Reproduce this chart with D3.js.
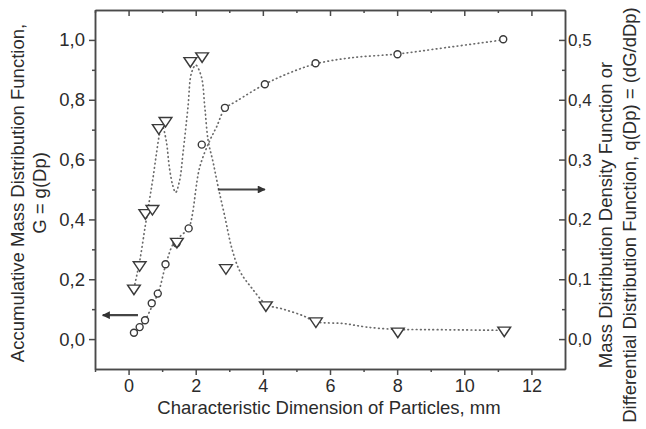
<!DOCTYPE html>
<html>
<head>
<meta charset="utf-8">
<script src="https://cdn.jsdelivr.net/npm/d3@7"></script>
<style>
  body { margin: 0; background: #fff; }
  text { font-family: "Liberation Sans", Arial, sans-serif; fill: #2b2b2b; }
</style>
</head>
<body>
<svg id="chart" width="646" height="429"></svg>
<script>
// measured points, accumulative G (left axis)
var gX = [0.16, 0.33, 0.49, 0.69, 0.87, 1.1, 1.43, 1.79, 2.18, 2.87, 4.06, 5.57, 8.01, 11.16];
var gY = [0.021, 0.04, 0.063, 0.12, 0.152, 0.25, 0.32, 0.37, 0.65, 0.773, 0.852, 0.922, 0.952, 1.002];
// measured points, density q (right axis)
var qX = [0.16, 0.33, 0.5, 0.71, 0.9, 1.1, 1.44, 1.84, 2.19, 2.9, 4.09, 5.58, 8.02, 11.19];
var qY = [0.085, 0.124, 0.211, 0.218, 0.353, 0.365, 0.163, 0.465, 0.473, 0.119, 0.057, 0.030, 0.013, 0.0146];
// dotted fit curves
var gFitX = [0.16, 0.33, 0.5, 0.7, 0.9, 1.1, 1.33, 1.6, 1.79, 2.12, 2.42, 2.62, 2.87, 3.21, 4.06, 4.8, 5.57, 6.6, 8.0, 9.5, 11.16];
var gFitY = [0.02, 0.04, 0.065, 0.11, 0.16, 0.245, 0.318, 0.35, 0.37, 0.575, 0.664, 0.709, 0.77, 0.795, 0.852, 0.89, 0.92, 0.94, 0.953, 0.975, 1.0];
var qFitX = [0.16, 0.33, 0.5, 0.63, 0.73, 0.83, 0.93, 1.0, 1.12, 1.22, 1.32, 1.4, 1.52, 1.62, 1.77, 1.87, 2.0, 2.17, 2.27, 2.37, 2.52, 2.67, 2.87, 3.07, 3.31, 3.66, 4.11, 4.61, 5.2, 5.58, 6.4, 7.1, 8.0, 8.6, 11.2];
var qFitY = [0.085, 0.13, 0.19, 0.235, 0.27, 0.31, 0.345, 0.357, 0.332, 0.285, 0.256, 0.245, 0.265, 0.31, 0.388, 0.444, 0.458, 0.438, 0.388, 0.332, 0.295, 0.254, 0.204, 0.153, 0.114, 0.086, 0.058, 0.05, 0.039, 0.029, 0.026, 0.020, 0.016, 0.016, 0.0146];

var xTicks = [0, 2, 4, 6, 8, 10, 12];
var xMinor = [-1, 1, 3, 5, 7, 9, 11];
var gTicks = [0, 0.2, 0.4, 0.6, 0.8, 1.0];
var gMinor = [0.1, 0.3, 0.5, 0.7, 0.9];
var qTicks = [0, 0.1, 0.2, 0.3, 0.4, 0.5];
var qMinor = [0.05, 0.15, 0.25, 0.35, 0.45];

(function () {
  var pL = 95, pR = 565, pT = 10, pB = 369;
  var svg = d3.select("#chart");

  var x = d3.scaleLinear().domain([-1, 13]).range([pL, pR]);
  var yL = d3.scaleLinear().domain([-0.1, 1.1]).range([pB, pT]);
  var yR = d3.scaleLinear().domain([-0.05, 0.55]).range([pB, pT]);

  var comma = function (d) { return d3.format(".1f")(d).replace(".", ","); };
  var axisColor = "#4a4a4a";

  function style(g) {
    g.selectAll("path, line").attr("stroke", axisColor).attr("stroke-width", 1.5);
    g.selectAll("text").attr("fill", "#2b2b2b").style("font-family", "'Liberation Sans', Arial, sans-serif");
  }

  // bottom axis
  svg.append("g").attr("transform", "translate(0," + pB + ")")
    .call(d3.axisBottom(x).tickValues(xTicks).tickSize(6).tickSizeOuter(0).tickPadding(4).tickFormat(d3.format("d")))
    .call(style).selectAll("text").style("font-size", "18px");
  svg.append("g").attr("transform", "translate(0," + pB + ")")
    .call(d3.axisBottom(x).tickValues(xMinor).tickSize(3).tickSizeOuter(0).tickFormat(""))
    .call(style);
  // top axis, ticks inside
  svg.append("g").attr("transform", "translate(0," + pT + ")")
    .call(d3.axisBottom(x).tickValues(xTicks).tickSize(6).tickSizeOuter(0).tickFormat(""))
    .call(style);
  svg.append("g").attr("transform", "translate(0," + pT + ")")
    .call(d3.axisBottom(x).tickValues(xMinor).tickSize(3).tickSizeOuter(0).tickFormat(""))
    .call(style);
  // left axis
  svg.append("g").attr("transform", "translate(" + pL + ",0)")
    .call(d3.axisLeft(yL).tickValues(gTicks).tickSize(6).tickSizeOuter(0).tickPadding(4).tickFormat(comma))
    .call(style).selectAll("text").style("font-size", "18.5px");
  svg.append("g").attr("transform", "translate(" + pL + ",0)")
    .call(d3.axisLeft(yL).tickValues(gMinor).tickSize(3).tickSizeOuter(0).tickFormat(""))
    .call(style);
  // right axis, ticks inside
  svg.append("g").attr("transform", "translate(" + pR + ",0)")
    .call(d3.axisRight(yR).tickValues(qTicks).tickSizeInner(-6).tickSizeOuter(0).tickPadding(3).tickFormat(comma))
    .call(style).selectAll("text").style("font-size", "17px");
  svg.append("g").attr("transform", "translate(" + pR + ",0)")
    .call(d3.axisRight(yR).tickValues(qMinor).tickSizeInner(-3).tickSizeOuter(0).tickFormat(""))
    .call(style);

  // axis titles
  svg.append("text").attr("x", 329).attr("y", 414)
    .attr("text-anchor", "middle").style("font-size", "18.5px")
    .text("Characteristic Dimension of Particles, mm");

  var lt = svg.append("text").attr("transform", "translate(24,193) rotate(-90)")
    .attr("text-anchor", "middle").style("font-size", "18.5px");
  lt.append("tspan").attr("x", 0).attr("dy", 0).text("Accumulative Mass Distribution Function,");
  lt.append("tspan").attr("x", 0).attr("dy", 22).text("G = g(Dp)");

  var rt = svg.append("text").attr("transform", "translate(612,215) rotate(-90)")
    .attr("text-anchor", "middle").style("font-size", "18.5px");
  rt.append("tspan").attr("x", 0).attr("dy", 0).text("Mass Distribution Density Function or");
  rt.append("tspan").attr("x", 0).attr("dy", 24).text("Differential Distribution Function, q(Dp) = (dG/dDp)");

  // dotted fit curves
  var gLine = d3.line().x(function (d, i) { return x(gFitX[i]); }).y(function (d) { return yL(d); }).curve(d3.curveCatmullRom);
  var qLine = d3.line().x(function (d, i) { return x(qFitX[i]); }).y(function (d) { return yR(d); }).curve(d3.curveCatmullRom);

  svg.append("path").attr("d", gLine(gFitY)).attr("fill", "none")
    .attr("stroke", "#6a6a6a").attr("stroke-width", 1.7).attr("stroke-dasharray", "0.6,3.6").attr("stroke-linecap", "round");
  svg.append("path").attr("d", qLine(qFitY)).attr("fill", "none")
    .attr("stroke", "#6a6a6a").attr("stroke-width", 1.7).attr("stroke-dasharray", "0.6,3.6").attr("stroke-linecap", "round");

  // markers
  svg.selectAll(".circ").data(gY).enter().append("circle")
    .attr("cx", function (d, i) { return x(gX[i]); })
    .attr("cy", function (d) { return yL(d); })
    .attr("r", 3.5).attr("fill", "#fff").attr("stroke", "#3a3a3a").attr("stroke-width", 1.4);

  var tri = d3.symbol().type(d3.symbolTriangle).size(58);
  svg.selectAll(".tri").data(qY).enter().append("path")
    .attr("d", tri)
    .attr("transform", function (d, i) { return "translate(" + x(qX[i]) + "," + yR(d) + ") rotate(180) scale(1.1,0.95)"; })
    .attr("fill", "#fff").attr("stroke", "#3a3a3a").attr("stroke-width", 1.4);

  // arrows
  var defs = svg.append("defs");
  defs.append("marker").attr("id", "head").attr("viewBox", "0 0 10 10")
    .attr("refX", 9).attr("refY", 5).attr("markerWidth", 5).attr("markerHeight", 3.6)
    .attr("markerUnits", "strokeWidth").attr("orient", "auto")
    .append("path").attr("d", "M0,0 L10,5 L0,10 Z").attr("fill", "#333");

  svg.append("line").attr("x1", x(0.28)).attr("y1", yL(0.08)).attr("x2", x(-0.77)).attr("y2", yL(0.08))
    .attr("stroke", "#444").attr("stroke-width", 2.2).attr("marker-end", "url(#head)");
  svg.append("line").attr("x1", x(2.66)).attr("y1", yR(0.25)).attr("x2", x(4.06)).attr("y2", yR(0.25))
    .attr("stroke", "#444").attr("stroke-width", 2.2).attr("marker-end", "url(#head)");
})();
</script>
</body>
</html>
